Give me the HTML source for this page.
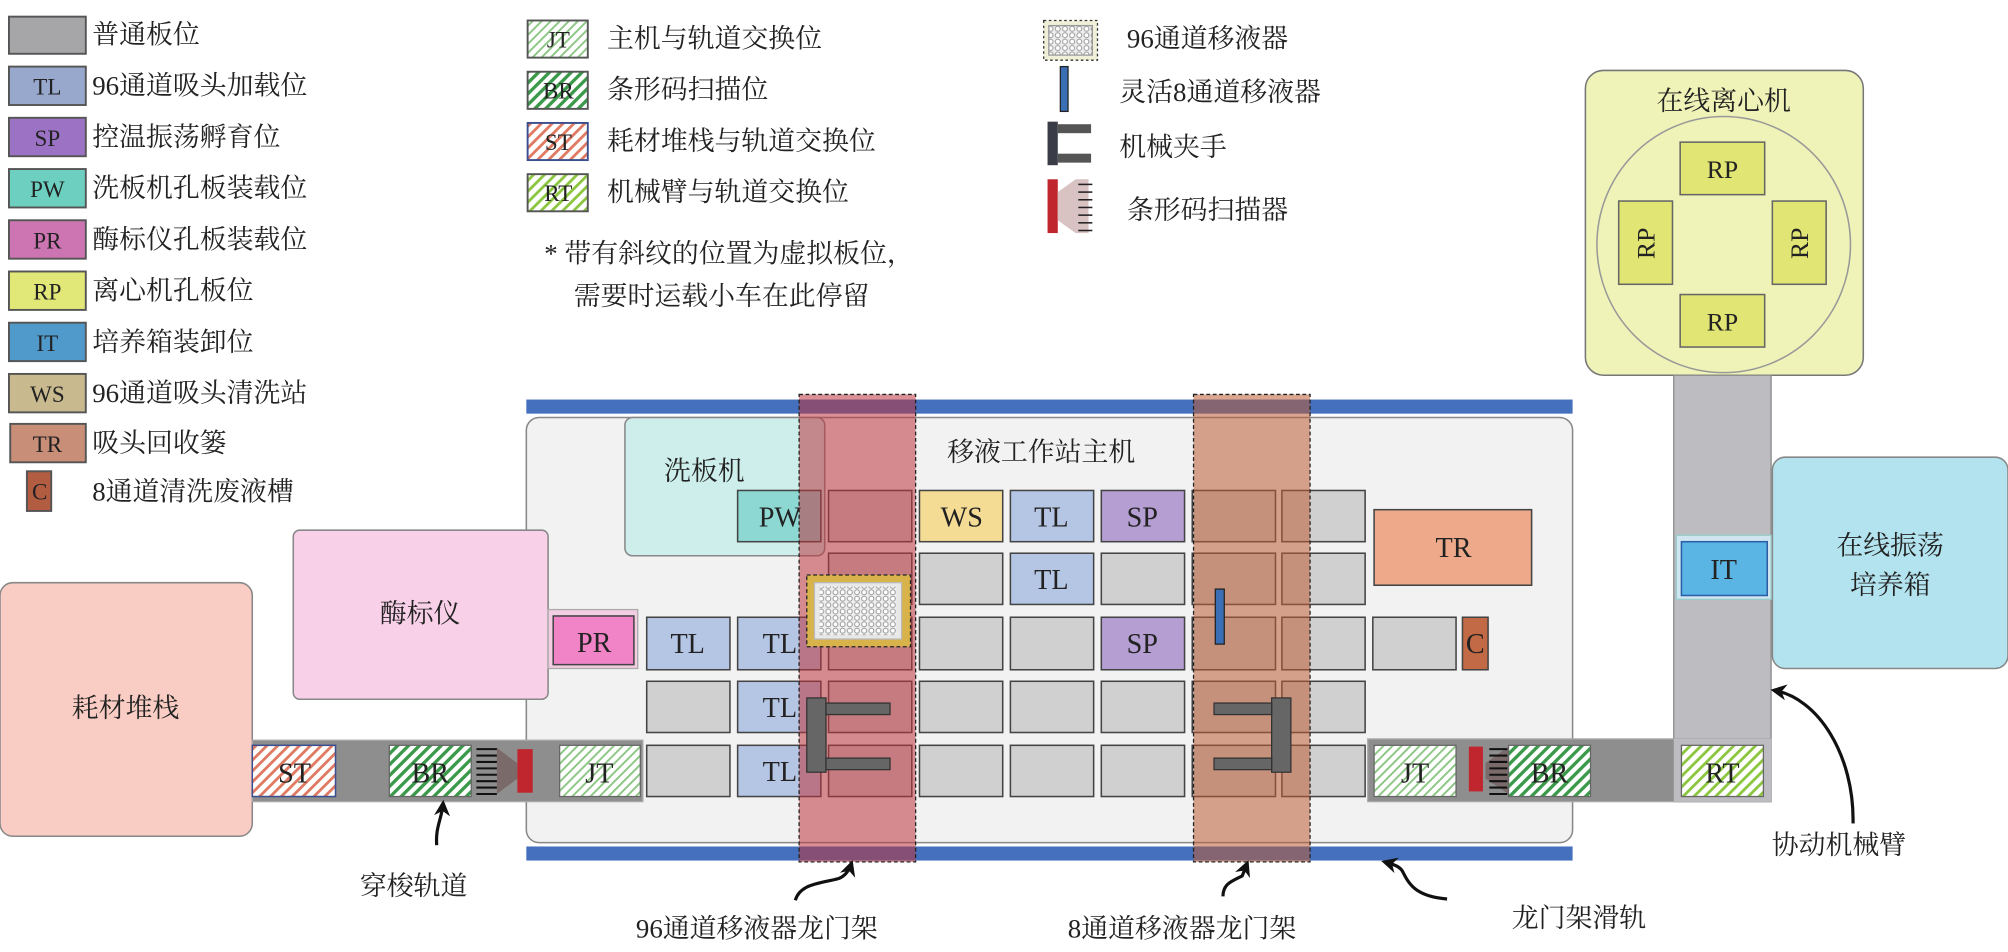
<!DOCTYPE html>
<html><head><meta charset="utf-8"><style>
html,body{margin:0;padding:0;background:#fff}
svg{display:block}
text{font-family:"Liberation Serif","Noto Serif CJK SC",serif;fill:#222}
</style></head><body>
<svg width="2008" height="952" viewBox="0 0 1568 743.4" preserveAspectRatio="none" xmlns="http://www.w3.org/2000/svg">
<defs>
<pattern id="hR" width="6" height="6" patternUnits="userSpaceOnUse" patternTransform="rotate(45)"><rect width="6" height="6" fill="#fff"/><rect width="2.2" height="6" fill="#e07a62"/></pattern>
<pattern id="hG" width="6" height="6" patternUnits="userSpaceOnUse" patternTransform="rotate(45)"><rect width="6" height="6" fill="#fff"/><rect width="2.6" height="6" fill="#3a9a4a"/></pattern>
<pattern id="hJ" width="5" height="5" patternUnits="userSpaceOnUse" patternTransform="rotate(45)"><rect width="5" height="5" fill="#fff"/><rect width="1.5" height="5" fill="#8cc784"/></pattern>
<pattern id="hT" width="6" height="6" patternUnits="userSpaceOnUse" patternTransform="rotate(45)"><rect width="6" height="6" fill="#fff"/><rect width="2.2" height="6" fill="#8cc63f"/></pattern>
<pattern id="dots" width="5.6" height="5" patternUnits="userSpaceOnUse"><rect width="5.6" height="5" fill="#eee"/><circle cx="2.8" cy="2.5" r="1.9" fill="#fff" stroke="#999" stroke-width="0.8"/></pattern>
<marker id="ah" viewBox="0 0 10 10" refX="8" refY="5" markerWidth="5" markerHeight="5" orient="auto"><path d="M0,0 L10,5 L0,10 L3,5 z" fill="#111"/></marker>
</defs>

<!-- Legend column 1 -->
<g stroke="#555" stroke-width="1.5">
<rect x="7" y="13" width="60" height="29" fill="#a6a6a8"/>
<rect x="7" y="52" width="60" height="30" fill="#97a8cc"/>
<rect x="7" y="92" width="60" height="30" fill="#9c72c4"/>
<rect x="7" y="132" width="60" height="30" fill="#6ccfc0"/>
<rect x="7" y="172" width="60" height="30" fill="#cd75b3"/>
<rect x="7" y="212" width="60" height="30" fill="#e1e877"/>
<rect x="7" y="252" width="60" height="30" fill="#4f9acb"/>
<rect x="7" y="292" width="60" height="30" fill="#c8b98e"/>
<rect x="8" y="331" width="59" height="30" fill="#c98e78"/>
<rect x="21" y="368" width="19" height="31" fill="#b25d42"/>
</g>
<g font-size="18" text-anchor="middle">
<text x="37" y="74">TL</text><text x="37" y="114">SP</text><text x="37" y="154">PW</text><text x="37" y="194">PR</text><text x="37" y="234">RP</text><text x="37" y="274">IT</text><text x="37" y="314">WS</text><text x="37" y="353">TR</text><text x="31" y="390">C</text>
</g>
<g font-size="21">
<text x="72" y="34">普通板位</text>
<text x="72" y="74">96通道吸头加载位</text>
<text x="72" y="114">控温振荡孵育位</text>
<text x="72" y="154">洗板机孔板装载位</text>
<text x="72" y="194">酶标仪孔板装载位</text>
<text x="72" y="234">离心机孔板位</text>
<text x="72" y="274">培养箱装卸位</text>
<text x="72" y="314">96通道吸头清洗站</text>
<text x="72" y="353">吸头回收篓</text>
<text x="72" y="391">8通道清洗废液槽</text>
</g>

<!-- Legend column 2 -->
<g stroke="#555" stroke-width="1.5">
<rect x="412" y="16" width="47" height="29" fill="url(#hJ)"/>
<rect x="412" y="56" width="47" height="29" fill="url(#hG)"/>
<rect x="412" y="96" width="47" height="29" fill="url(#hR)" stroke="#3b4f8f"/>
<rect x="412" y="136" width="47" height="29" fill="url(#hT)"/>
</g>
<g font-size="18" text-anchor="middle"><text x="436" y="37">JT</text><text x="436" y="77">BR</text><text x="436" y="117">ST</text><text x="436" y="157">RT</text></g>
<g font-size="21">
<text x="474" y="37">主机与轨道交换位</text>
<text x="474" y="77">条形码扫描位</text>
<text x="474" y="117">耗材堆栈与轨道交换位</text>
<text x="474" y="157">机械臂与轨道交换位</text>
<text x="425" y="205">* 带有斜纹的位置为虚拟板位，</text>
<text x="448" y="238">需要时运载小车在此停留</text>
</g>

<!-- Legend column 3 -->
<rect x="815" y="16" width="42" height="31" fill="#f0f0d8" stroke="#333" stroke-dasharray="2,2"/>
<rect x="819" y="20" width="34" height="23" fill="url(#dots)" stroke="#999"/>
<rect x="828" y="52" width="6" height="35" fill="#3a6fb5" stroke="#222" stroke-width="1"/>
<rect x="818" y="95" width="8" height="34" fill="#3a3d47"/>
<rect x="826" y="97" width="26" height="7" fill="#555"/><rect x="826" y="120" width="26" height="7" fill="#555"/>
<rect x="818" y="140" width="8" height="42" fill="#c0262e"/>
<polygon points="826,150 840,140 850,140 850,182 840,182 826,172" fill="#d8c2c2"/>
<g stroke="#222" stroke-width="1.2"><line x1="842" y1="144" x2="853" y2="144"/><line x1="842" y1="150" x2="853" y2="150"/><line x1="842" y1="156" x2="853" y2="156"/><line x1="842" y1="162" x2="853" y2="162"/><line x1="842" y1="168" x2="853" y2="168"/><line x1="842" y1="174" x2="853" y2="174"/><line x1="842" y1="180" x2="853" y2="180"/></g>
<g font-size="21">
<text x="880" y="37">96通道移液器</text>
<text x="874" y="79">灵活8通道移液器</text>
<text x="874" y="122">机械夹手</text>
<text x="880" y="171">条形码扫描器</text>
</g>

<!-- Centrifuge -->
<rect x="1238" y="55" width="217" height="238" rx="14" fill="#eff3b8" stroke="#777" stroke-width="1.2"/>
<text x="1346" y="86" font-size="21" text-anchor="middle">在线离心机</text>
<ellipse cx="1346" cy="191" rx="99" ry="100" fill="none" stroke="#999" stroke-width="1.2"/>
<g fill="#e1e573" stroke="#666" stroke-width="1.2">
<rect x="1312" y="111" width="66" height="41"/><rect x="1312" y="230" width="66" height="41"/>
<rect x="1264" y="157" width="42" height="65"/><rect x="1384" y="157" width="42" height="65"/>
</g>
<g font-size="20" text-anchor="middle">
<text x="1345" y="139">RP</text><text x="1345" y="258">RP</text>
<text transform="translate(1292,190) rotate(-90)">RP</text>
<text transform="translate(1412,190) rotate(-90)">RP</text>
</g>

<!-- Vertical track -->
<rect x="1307" y="293" width="76" height="333" fill="#bdbcc0" stroke="#888" stroke-width="1"/>
<!-- Incubator -->
<rect x="1384" y="357" width="184" height="165" rx="10" fill="#b3e3ee" stroke="#888" stroke-width="1.2"/>
<text x="1476" y="433" font-size="21" text-anchor="middle">在线振荡</text>
<text x="1476" y="464" font-size="21" text-anchor="middle">培养箱</text>
<rect x="1309" y="418" width="74" height="50" fill="#cfe6f0" stroke="#9cc" stroke-width="1"/>
<rect x="1313" y="423" width="67" height="42" fill="#5ab4e4" stroke="#2c5ea8" stroke-width="1.2"/>
<text x="1346" y="452" font-size="22" text-anchor="middle">IT</text>

<!-- Rails -->
<rect x="411" y="312" width="817" height="11" fill="#4570bd"/>
<rect x="411" y="661" width="817" height="11" fill="#4570bd"/>
<!-- Main box -->
<rect x="411" y="326" width="817" height="332" rx="10" fill="#f2f2f2" stroke="#888" stroke-width="1.2"/>
<text x="813" y="360" font-size="21" text-anchor="middle">移液工作站主机</text>
<!-- washer -->
<rect x="488" y="326" width="156" height="108" rx="6" fill="#cdeeea" stroke="#888" stroke-width="1.2"/>
<text x="550" y="375" font-size="21" text-anchor="middle">洗板机</text>
<!-- plate reader -->
<rect x="229" y="414" width="199" height="132" rx="5" fill="#f8d0e8" stroke="#888" stroke-width="1.2"/>
<text x="328" y="486" font-size="21" text-anchor="middle">酶标仪</text>
<rect x="428" y="476" width="70" height="46" fill="#f3cde2" stroke="#aaa" stroke-width="1"/>
<rect x="432" y="481" width="63" height="38" fill="#f084c6" stroke="#444" stroke-width="1.2"/>
<text x="464" y="509" font-size="22" text-anchor="middle">PR</text>
<!-- consumables stack -->
<rect x="0" y="455" width="197" height="198" rx="10" fill="#f9cdc3" stroke="#888" stroke-width="1.2"/>
<text x="98" y="560" font-size="21" text-anchor="middle">耗材堆栈</text>

<!-- Left track -->
<rect x="197" y="578" width="305" height="48" fill="#8e8e8e" stroke="#aaa" stroke-width="1"/>
<rect x="197" y="582" width="65" height="40" fill="url(#hR)" stroke="#3b4f8f" stroke-width="1.2"/>
<rect x="304" y="582" width="64" height="40" fill="url(#hG)" stroke="#666" stroke-width="1"/>
<polygon points="388,584 404,596 404,608 388,620" fill="#7a6a6a"/>
<g stroke="#111" stroke-width="1.6"><line x1="372" y1="585" x2="388" y2="585"/><line x1="372" y1="590" x2="388" y2="590"/><line x1="372" y1="595" x2="388" y2="595"/><line x1="372" y1="600" x2="388" y2="600"/><line x1="372" y1="605" x2="388" y2="605"/><line x1="372" y1="610" x2="388" y2="610"/><line x1="372" y1="615" x2="388" y2="615"/><line x1="372" y1="620" x2="388" y2="620"/></g>
<rect x="404" y="585" width="12" height="34" fill="#c0262e"/>
<rect x="437" y="582" width="63" height="40" fill="url(#hJ)" stroke="#666" stroke-width="1"/>
<g font-size="22" text-anchor="middle"><text x="230" y="611">ST</text><text x="336" y="611">BR</text><text x="468" y="611">JT</text></g>

<!-- Right track -->
<rect x="1068" y="577" width="315" height="49" fill="#8e8e8e" stroke="#aaa" stroke-width="1"/>
<rect x="1307" y="577" width="76" height="49" fill="#bdbcc0"/>
<rect x="1073" y="582" width="64" height="40" fill="url(#hJ)" stroke="#666" stroke-width="1"/>
<rect x="1147" y="583" width="11" height="35" fill="#c0262e"/>
<polygon points="1160,596 1178,583 1178,620 1160,608" fill="#7a6a6a"/>
<g stroke="#111" stroke-width="1.6"><line x1="1163" y1="585" x2="1177" y2="585"/><line x1="1163" y1="590" x2="1177" y2="590"/><line x1="1163" y1="595" x2="1177" y2="595"/><line x1="1163" y1="600" x2="1177" y2="600"/><line x1="1163" y1="605" x2="1177" y2="605"/><line x1="1163" y1="610" x2="1177" y2="610"/><line x1="1163" y1="615" x2="1177" y2="615"/><line x1="1163" y1="620" x2="1177" y2="620"/></g>
<rect x="1178" y="582" width="64" height="40" fill="url(#hG)" stroke="#666" stroke-width="1"/>
<rect x="1313" y="582" width="64" height="40" fill="url(#hT)" stroke="#666" stroke-width="1"/>
<g font-size="22" text-anchor="middle"><text x="1105" y="611">JT</text><text x="1210" y="611">BR</text><text x="1345" y="611">RT</text></g>

<!-- Grid -->
<g stroke="#444" stroke-width="1.2" fill="#d0d0d0">
<rect x="576" y="383" width="65" height="40" fill="#8ed8d4"/>
<rect x="647" y="383" width="65" height="40"/>
<rect x="718" y="383" width="65" height="40" fill="#f5dc95"/>
<rect x="789" y="383" width="65" height="40" fill="#b5c6e4"/>
<rect x="860" y="383" width="65" height="40" fill="#b49ed2"/>
<rect x="931" y="383" width="65" height="40"/>
<rect x="1001" y="383" width="65" height="40"/>
<rect x="647" y="432" width="65" height="40"/>
<rect x="718" y="432" width="65" height="40"/>
<rect x="789" y="432" width="65" height="40" fill="#b5c6e4"/>
<rect x="860" y="432" width="65" height="40"/>
<rect x="931" y="432" width="65" height="40"/>
<rect x="1001" y="432" width="65" height="40"/>
<rect x="505" y="482" width="65" height="41" fill="#b5c6e4"/>
<rect x="576" y="482" width="65" height="41" fill="#b5c6e4"/>
<rect x="647" y="482" width="65" height="41"/>
<rect x="718" y="482" width="65" height="41"/>
<rect x="789" y="482" width="65" height="41"/>
<rect x="860" y="482" width="65" height="41" fill="#b49ed2"/>
<rect x="931" y="482" width="65" height="41"/>
<rect x="1001" y="482" width="65" height="41"/>
<rect x="1072" y="482" width="65" height="41"/>
<rect x="1142" y="482" width="20" height="41" fill="#c26a45"/>
<rect x="505" y="532" width="65" height="40"/>
<rect x="576" y="532" width="65" height="40" fill="#b5c6e4"/>
<rect x="647" y="532" width="65" height="40"/>
<rect x="718" y="532" width="65" height="40"/>
<rect x="789" y="532" width="65" height="40"/>
<rect x="860" y="532" width="65" height="40"/>
<rect x="931" y="532" width="65" height="40"/>
<rect x="1001" y="532" width="65" height="40"/>
<rect x="505" y="582" width="65" height="40"/>
<rect x="576" y="582" width="65" height="40" fill="#b5c6e4"/>
<rect x="647" y="582" width="65" height="40"/>
<rect x="718" y="582" width="65" height="40"/>
<rect x="789" y="582" width="65" height="40"/>
<rect x="860" y="582" width="65" height="40"/>
<rect x="931" y="582" width="65" height="40"/>
<rect x="1001" y="582" width="65" height="40"/>
<rect x="1073" y="398" width="123" height="59" fill="#eda98a"/>
</g>
<g font-size="22" text-anchor="middle">
<text x="609" y="411">PW</text><text x="751" y="411">WS</text><text x="821" y="411">TL</text><text x="892" y="411">SP</text>
<text x="821" y="460">TL</text>
<text x="537" y="510">TL</text><text x="609" y="510">TL</text><text x="892" y="510">SP</text><text x="1152" y="510">C</text>
<text x="609" y="560">TL</text><text x="609" y="610">TL</text>
<text x="1135" y="435">TR</text>
</g>

<!-- Gantries -->
<rect x="624" y="308" width="91" height="365" fill="#bb353c" fill-opacity="0.55" stroke="#222" stroke-width="1" stroke-dasharray="3,2"/>
<rect x="932" y="308" width="91" height="365" fill="#bb5d35" fill-opacity="0.55" stroke="#222" stroke-width="1" stroke-dasharray="3,2"/>

<!-- 96 head -->
<rect x="630" y="449" width="81" height="56" fill="#d8b24a" stroke="#222" stroke-width="1" stroke-dasharray="3,2"/>
<rect x="636" y="455" width="68" height="44" fill="#e8e8e8" stroke="#bbb"/>
<rect x="640" y="458" width="60" height="38" fill="url(#dots)"/>
<!-- 8 channel -->
<rect x="949" y="460" width="7" height="43" fill="#3a6fb5" stroke="#222" stroke-width="1"/>
<!-- grippers -->
<g fill="#666" stroke="#333" stroke-width="1">
<rect x="630" y="545" width="15" height="58"/><rect x="645" y="549" width="50" height="9"/><rect x="645" y="592" width="50" height="9"/>
<rect x="993" y="545" width="15" height="58"/><rect x="948" y="549" width="45" height="9"/><rect x="948" y="592" width="45" height="9"/>
</g>

<!-- Callouts -->
<g fill="none" stroke="#111" stroke-width="2.5" marker-end="url(#ah)">
<path d="M341,660 C340,645 345,640 346,627"/>
<path d="M621,703 C625,690 640,690 655,686 C660,684 663,680 665,674"/>
<path d="M955,700 C955,690 962,688 970,684 L974,674"/>
<path d="M1130,702 C1105,700 1100,690 1095,680 C1092,676 1088,675 1081,673"/>
<path d="M1447,643 C1448,590 1420,545 1385,539"/>
</g>
<g font-size="21" text-anchor="middle">
<text x="323" y="699">穿梭轨道</text>
<text x="591" y="732">96通道移液器龙门架</text>
<text x="923" y="732">8通道移液器龙门架</text>
<text x="1233" y="724">龙门架滑轨</text>
<text x="1436" y="667">协动机械臂</text>
</g>
</svg>
</body></html>
